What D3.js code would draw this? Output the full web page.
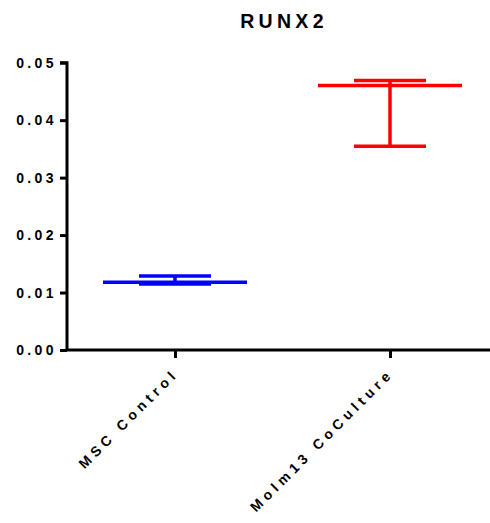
<!DOCTYPE html>
<html>
<head>
<meta charset="utf-8">
<script src="https://cdn.jsdelivr.net/npm/d3@7"></script>
<style>
  html, body { margin: 0; padding: 0; background: #fff; }
  text { font-family: "Liberation Sans", Arial, sans-serif; font-weight: bold; fill: #000; }
</style>
</head>
<body>
<svg id="chart" width="490" height="523"></svg>
<script>
// RUNX2 expression per group: mean with error range
const categories = ["MSC Control", "Molm13 CoCulture"];
const means = [0.01177, 0.04603];
const upper = [0.01287, 0.0469];
const lower = [0.01148, 0.03548];
const colors = ["#0000FF", "#FF0000"];
const yTicks = [0.00, 0.01, 0.02, 0.03, 0.04, 0.05];
const title = "RUNX2";

const svg = d3.select("#chart");
const margin = { left: 67 };
const W = 490;

const y = d3.scaleLinear().domain([0, 0.05]).range([350, 62.7]);
const x = d3.scalePoint().domain(categories).range([175, 390]);

// title
svg.append("text")
  .attr("x", 284).attr("y", 28.3)
  .attr("text-anchor", "middle")
  .style("font-size", "19.5px")
  .style("letter-spacing", "4.3px")
  .text(title);

// y axis
const yAxis = d3.axisLeft(y).tickValues(yTicks).tickFormat(d3.format(".2f")).tickSize(7).tickPadding(6);
const gy = svg.append("g").attr("transform", `translate(${margin.left},0)`).call(yAxis);
gy.select(".domain").attr("stroke", "#000").attr("stroke-width", 3).attr("d", `M-7,${y(0.05)}H0V${y(0)}`);
gy.selectAll(".tick line").attr("stroke-width", 3);
gy.selectAll(".tick text").style("font-size", "14px").style("letter-spacing", "3.4px").attr("dx", "3px");

// x axis
const xAxis = d3.axisBottom(x).tickSize(8).tickFormat("");
const gx = svg.append("g").attr("transform", `translate(0,350)`).call(xAxis);
gx.select(".domain").attr("stroke-width", 3).attr("d", `M${margin.left},0H${W}`);
gx.selectAll(".tick line").attr("stroke-width", 3);

// rotated category labels
svg.append("g").selectAll("text").data(categories).join("text")
  .attr("transform", d => `translate(${x(d) + 1},${371}) rotate(-45)`)
  .attr("text-anchor", "end")
  .attr("dy", "0.35em")
  .style("font-size", "14px")
  .style("letter-spacing", "4.5px")
  .text(d => d);

// error bars and mean lines
const groups = svg.append("g").selectAll("g").data(categories).join("g");
const meanHalf = 72, capHalf = 36;
groups.append("line")
  .attr("x1", d => x(d)).attr("x2", d => x(d))
  .attr("y1", (d, i) => y(upper[i])).attr("y2", (d, i) => y(lower[i]))
  .attr("stroke", (d, i) => colors[i]).attr("stroke-width", 3.5);
groups.append("line")
  .attr("x1", d => x(d) - capHalf).attr("x2", d => x(d) + capHalf)
  .attr("y1", (d, i) => y(upper[i])).attr("y2", (d, i) => y(upper[i]))
  .attr("stroke", (d, i) => colors[i]).attr("stroke-width", 3.5);
groups.append("line")
  .attr("x1", d => x(d) - capHalf).attr("x2", d => x(d) + capHalf)
  .attr("y1", (d, i) => y(lower[i])).attr("y2", (d, i) => y(lower[i]))
  .attr("stroke", (d, i) => colors[i]).attr("stroke-width", 3.5);
groups.append("line")
  .attr("x1", d => x(d) - meanHalf).attr("x2", d => x(d) + meanHalf)
  .attr("y1", (d, i) => y(means[i])).attr("y2", (d, i) => y(means[i]))
  .attr("stroke", (d, i) => colors[i]).attr("stroke-width", 3.5);
</script>
</body>
</html>
